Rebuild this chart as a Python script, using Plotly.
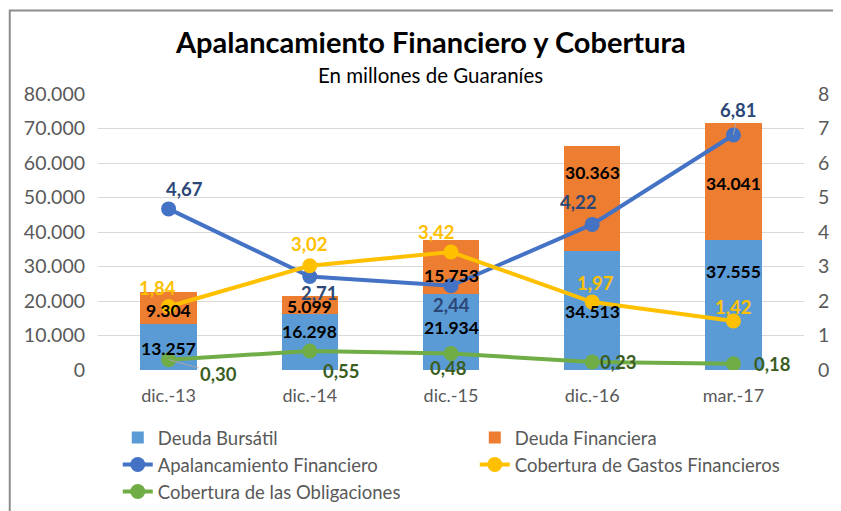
import plotly.graph_objects as go

categories = ["dic.-13", "dic.-14", "dic.-15", "dic.-16", "mar.-17"]
deuda_bursatil = [13257, 16298, 21934, 34513, 37555]
deuda_financiera = [9304, 5099, 15753, 30363, 34041]
apalancamiento = [4.67, 2.71, 2.44, 4.22, 6.81]
cobertura_gastos = [1.84, 3.02, 3.42, 1.97, 1.42]
cobertura_oblig = [0.30, 0.55, 0.48, 0.23, 0.18]

FONT = "Lato"
GRAY = "#595959"
C_BURS = "#5B9BD5"
C_FIN = "#ED7D31"
C_APAL = "#4472C4"
C_GAST = "#FFC000"
C_OBL = "#70AD47"
L_APAL = "#2B4777"
L_GAST = "#FFC000"
L_OBL = "#3B5E1F"

fig = go.Figure()

fig.add_trace(go.Bar(
    x=categories, y=deuda_bursatil, name="Deuda Bursátil",
    marker=dict(color=C_BURS, line=dict(width=0)), width=0.4,
    legend="legend", yaxis="y", hoverinfo="skip",
))
fig.add_trace(go.Bar(
    x=categories, y=deuda_financiera, name="Deuda Financiera",
    marker=dict(color=C_FIN, line=dict(width=0)), width=0.4,
    legend="legend2", yaxis="y", hoverinfo="skip",
))

line_specs = [
    (apalancamiento, "Apalancamiento Financiero", C_APAL, "legend3"),
    (cobertura_gastos, "Cobertura de Gastos Financieros", C_GAST, "legend4"),
    (cobertura_oblig, "Cobertura de las Obligaciones", C_OBL, "legend5"),
]
for vals, name, col, leg in line_specs:
    fig.add_trace(go.Scatter(
        x=categories, y=vals, name=name, yaxis="y2", mode="lines+markers",
        line=dict(color=col, width=4), marker=dict(color=col, size=15),
        legend=leg,
    ))

# bar data labels (centre of each stacked segment, with Excel-like manual nudges in px)
bar_label_font = dict(family=FONT, size=17.5, color="#000000", weight="bold")
burs_nudge = [-1, 10, 5, -1, 34]
fin_nudge = [-2, -2, -8, 26, -2]
for i, c in enumerate(categories):
    b = deuda_bursatil[i]
    f = deuda_financiera[i]
    fig.add_annotation(x=c, y=b / 2, xref="x", yref="y",
                       text=f"{b:,}".replace(",", "."), showarrow=False,
                       yshift=burs_nudge[i], font=bar_label_font)
    fig.add_annotation(x=c, y=b + f / 2, xref="x", yref="y",
                       text=f"{f:,}".replace(",", "."), showarrow=False,
                       yshift=fin_nudge[i], font=bar_label_font)

# label offsets (pixels) for the line data labels
label_offsets = {
    "apal": [(16, -20), (10, 16), (0, 19), (-14, -22), (5, -25)],
    "gast": [(-11, -19), (0, -22), (-15, -20), (3, -19), (0, -14)],
    "obl": [(50, 14), (32, 20), (-3, 15), (26, 0), (39, 0)],
}
leader = {"apal": [False, False, False, False, True],
          "gast": [False] * 5,
          "obl": [True, False, False, False, False]}
series_for_labels = [("apal", apalancamiento, L_APAL),
                     ("gast", cobertura_gastos, L_GAST),
                     ("obl", cobertura_oblig, L_OBL)]
for key, vals, col in series_for_labels:
    for i, (c, v) in enumerate(zip(categories, vals)):
        ax, ay = label_offsets[key][i]
        fig.add_annotation(
            x=c, y=v, xref="x", yref="y2",
            text=f"{v:.2f}".replace(".", ","),
            showarrow=True, ax=ax, ay=ay, axref="pixel", ayref="pixel",
            arrowhead=0, arrowwidth=1,
            arrowcolor="#A6A6A6" if leader[key][i] else "rgba(0,0,0,0)",
            font=dict(family=FONT, size=18.5, color=col, weight="bold"),
            standoff=0, startstandoff=0,
        )

# title and subtitle
fig.add_annotation(text="<b>Apalancamiento Financiero y Cobertura</b>",
                   xref="paper", yref="paper", x=0.4705, y=1.19,
                   xanchor="center", yanchor="middle", showarrow=False,
                   font=dict(family=FONT, size=29, color="#000000"))
fig.add_annotation(text="En millones de Guaraníes",
                   xref="paper", yref="paper", x=0.4705, y=1.0688,
                   xanchor="center", yanchor="middle", showarrow=False,
                   font=dict(family=FONT, size=20.5, color="#000000"))

# outer chart frame
fig.add_shape(type="rect", xref="paper", yref="paper",
              x0=-0.125, x1=1.08, y0=-0.6, y1=1.3025,
              line=dict(color="#8C8C8C", width=2), layer="below")

leg_common = dict(orientation="h", xanchor="left", yanchor="middle", yref="container",
                  font=dict(family=FONT, size=18.5, color=GRAY),
                  bgcolor="rgba(0,0,0,0)", itemwidth=30, traceorder="normal")

COL1, COL2 = 0.028, 0.5337
ROW1, ROW2, ROW3 = 0.1451, 0.0915, 0.0378
fig.update_layout(
    width=833, height=503,
    margin=dict(l=90, r=31, t=86, b=141),
    paper_bgcolor="white", plot_bgcolor="white",
    separators=",.",
    barmode="stack",
    showlegend=True,
    font=dict(family=FONT, color=GRAY),
    xaxis=dict(type="category", showgrid=False, showline=False, zeroline=False,
               ticks="", tickfont=dict(family=FONT, size=18, color=GRAY),
               ticklabelstandoff=13),
    yaxis=dict(range=[0, 80000], dtick=10000, tickformat=",d", showgrid=True,
               gridcolor="#D9D9D9", gridwidth=1, zeroline=False, showline=False,
               tickfont=dict(family=FONT, size=19.5, color=GRAY), ticklabelstandoff=12),
    yaxis2=dict(range=[0, 8], dtick=1, overlaying="y", side="right",
                showgrid=False, zeroline=False, showline=False,
                tickfont=dict(family=FONT, size=19.5, color=GRAY), ticklabelstandoff=13),
    legend=dict(x=COL1, y=ROW1, **leg_common),
    legend2=dict(x=COL2, y=ROW1, **leg_common),
    legend3=dict(x=COL1, y=ROW2, **leg_common),
    legend4=dict(x=COL2, y=ROW2, **leg_common),
    legend5=dict(x=COL1, y=ROW3, **leg_common),
)

fig.write_html("out.html")
